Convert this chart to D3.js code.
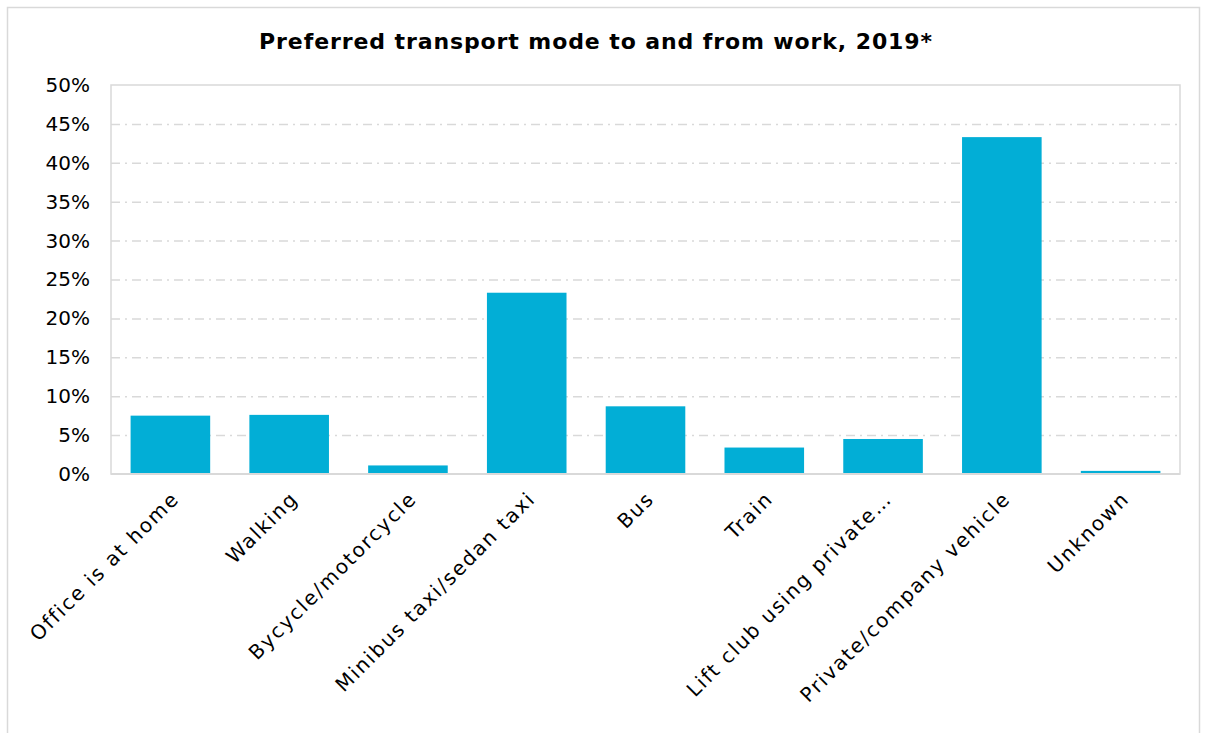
<!DOCTYPE html>
<html>
<head>
<meta charset="utf-8">
<script src="https://cdn.jsdelivr.net/npm/d3@7"></script>
<style>
  html, body { margin: 0; padding: 0; background: #fff; }
  svg { display: block; }
  text { font-family: "DejaVu Sans", sans-serif; fill: #000; }
</style>
</head>
<body>
<svg id="chart" width="1206" height="733"></svg>
<script>
// Transport modes and their share of commuters (%)
const categories = [
  "Office is at home",
  "Walking",
  "Bycycle/motorcycle",
  "Minibus taxi/sedan taxi",
  "Bus",
  "Train",
  "Lift club using private\u2026",
  "Private/company vehicle",
  "Unknown"
];
const shares = [7.5, 7.6, 1.1, 23.3, 8.7, 3.4, 4.5, 43.3, 0.4];
const yTickValues = [0, 5, 10, 15, 20, 25, 30, 35, 40, 45, 50];
const chartTitle = "Preferred transport mode to and from work, 2019*";

const svg = d3.select("#chart");
const plot = { left: 111, right: 1180, top: 85, bottom: 474 };

// outer frame
svg.append("rect")
  .attr("x", 7.5).attr("y", 7.5)
  .attr("width", 1192).attr("height", 740)
  .attr("fill", "none").attr("stroke", "#d9d9d9").attr("stroke-width", 1.5);

svg.append("text")
  .attr("x", 596).attr("y", 49)
  .attr("text-anchor", "middle")
  .attr("font-size", 22).attr("font-weight", "bold")
  .style("letter-spacing", "0.9px")
  .text(chartTitle);

const x = d3.scaleBand()
  .domain(categories)
  .range([plot.left, plot.right])
  .paddingInner(0.33)
  .paddingOuter(0.165);

const y = d3.scaleLinear()
  .domain([0, 50])
  .range([plot.bottom, plot.top]);

// plot frame
svg.append("rect")
  .attr("x", plot.left).attr("y", plot.top)
  .attr("width", plot.right - plot.left).attr("height", plot.bottom - plot.top)
  .attr("fill", "none").attr("stroke", "#d9d9d9").attr("stroke-width", 1.5);

// dash-dot gridlines
const grid = svg.append("g")
  .attr("transform", `translate(${plot.left},0)`)
  .call(d3.axisLeft(y).tickValues(yTickValues.filter(v => v > 0 && v < 50))
    .tickSize(-(plot.right - plot.left)).tickFormat(""));
grid.select(".domain").remove();
grid.selectAll(".tick line")
  .attr("stroke", "#d9d9d9").attr("stroke-width", 1.5)
  .attr("stroke-dasharray", "9,5,2,5");

// y axis labels
const yAxis = svg.append("g")
  .attr("transform", `translate(${plot.left},0)`)
  .call(d3.axisLeft(y).tickValues(yTickValues).tickSize(0).tickPadding(21)
    .tickFormat(d => d + "%"));
yAxis.select(".domain").remove();
yAxis.selectAll("text")
  .attr("font-size", 20).attr("fill", "#000")
  .style("font-family", "DejaVu Sans, sans-serif");

// bars
svg.append("g").selectAll("rect")
  .data(categories)
  .join("rect")
  .attr("x", d => x(d))
  .attr("width", x.bandwidth())
  .attr("y", (d, i) => y(shares[i]))
  .attr("height", (d, i) => y(0) - y(shares[i]))
  .attr("fill", "#02aed6");

// baseline
svg.append("line")
  .attr("x1", plot.left).attr("x2", plot.right)
  .attr("y1", plot.bottom).attr("y2", plot.bottom)
  .attr("stroke", "#d9d9d9").attr("stroke-width", 2);

// rotated category labels
const xAxis = svg.append("g")
  .attr("transform", `translate(0,${plot.bottom})`)
  .call(d3.axisBottom(x).tickSize(0).tickPadding(0));
xAxis.select(".domain").remove();
xAxis.selectAll("text")
  .attr("font-size", 20).attr("fill", "#000")
  .style("font-family", "DejaVu Sans, sans-serif")
  .style("letter-spacing", "1.8px")
  .attr("text-anchor", "end")
  .attr("dy", "0")
  .attr("y", 0)
  .attr("transform", "translate(10,26) rotate(-45)");
</script>
</body>
</html>
